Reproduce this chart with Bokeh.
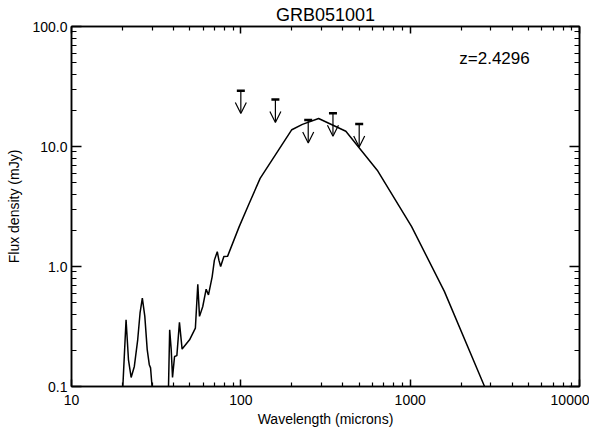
from bokeh.plotting import figure
from bokeh.models import (Range1d, LogAxis, FixedTicker, PrintfTickFormatter, Arrow,
                          OpenHead, ColumnDataSource, Label)
from bokeh.embed import file_html
from bokeh.resources import INLINE

# ---- data -------------------------------------------------------------
title_text = "GRB051001"
redshift_text = "z=2.4296"

sed_wave = [10, 19.8, 20.1, 21.0, 21.7, 22.5, 23.5, 24.6, 25.4, 26.2, 27.1, 28.0, 28.8,
            29.3, 29.9, 30.4, 37.0, 37.4, 38.0, 38.8, 39.5, 40.6, 41.9, 43.4, 45.0, 49.8,
            53.9, 55.7, 57.0, 59.6, 62.4, 64.4, 67.7, 69.8, 72.6, 74.2, 76.0, 79.4, 83.6,
            97.8, 111, 130, 200, 231, 288, 417, 639, 1020, 1592, 2750, 3500, 10000]
sed_flux = [0.01, 0.02, 0.10, 0.36, 0.167, 0.119, 0.147, 0.245, 0.41, 0.546, 0.384, 0.203,
            0.152, 0.143, 0.10, 0.03, 0.03, 0.10, 0.297, 0.203, 0.119, 0.178, 0.181, 0.342,
            0.205, 0.245, 0.307, 0.71, 0.384, 0.464, 0.647, 0.58, 0.82, 1.13, 1.33, 1.13,
            1.00, 1.21, 1.22, 2.15, 3.25, 5.42, 13.8, 15.3, 17.1, 13.4, 6.35, 2.15, 0.62,
            0.10, 0.04, 0.001]

ul_wave = [100, 160, 250, 350, 500]
ul_flux = [29.2, 24.6, 16.6, 18.9, 15.4]

x_ticks = [10, 100, 1000, 10000]
y_ticks = [0.1, 1, 10, 100]

# ---- styling constants ------------------------------------------------
FONT = "Liberation Sans"
ARROW_FACTOR = 0.644  # arrow length (fixed fraction of a decade)


def minors(ticks):
    out = []
    for t in ticks[:-1]:
        out += [t * k for k in range(2, 10)]
    return out


xticker = FixedTicker(ticks=x_ticks, minor_ticks=minors(x_ticks))
yticker = FixedTicker(ticks=y_ticks, minor_ticks=minors(y_ticks))

p = figure(frame_width=508, frame_height=360,
           x_axis_type="log", y_axis_type="log",
           x_range=Range1d(10, 10000), y_range=Range1d(0.1, 100),
           output_backend="svg", toolbar_location=None,
           min_border_left=71, min_border_right=10, min_border_top=22,
           min_border_bottom=10, background_fill_color="white",
           border_fill_color="white")

bottom = p.below[0]
left = p.left[0]

p.title.text = title_text
p.title.align = "center"
p.title.text_font = FONT
p.title.text_font_size = "18px"
p.title.text_font_style = "normal"
p.title.text_color = "black"
p.title.standoff = 4
p.title.offset = 0

p.xgrid.visible = False
p.ygrid.visible = False
p.outline_line_color = "black"
p.outline_line_width = 1.5

top = LogAxis(ticker=xticker)
right = LogAxis(ticker=yticker)
p.add_layout(top, "above")
p.add_layout(right, "right")

for ax in [bottom, top]:
    ax.ticker = xticker
    ax.major_tick_in = 7
    ax.minor_tick_in = 4
for ax in [left, right]:
    ax.ticker = yticker
    ax.major_tick_in = 10
    ax.minor_tick_in = 5

for ax in [bottom, top, left, right]:
    ax.major_tick_out = 0
    ax.minor_tick_out = 0
    ax.axis_line_width = 1.5
    ax.axis_line_color = "black"
    ax.major_tick_line_width = 1.5
    ax.minor_tick_line_width = 1.2
    ax.major_tick_line_color = "black"
    ax.minor_tick_line_color = "black"
    ax.major_label_text_font = FONT
    ax.major_label_text_font_size = "14px"
    ax.major_label_text_color = "black"
    ax.axis_label_text_font = FONT
    ax.axis_label_text_font_size = "14px"
    ax.axis_label_text_font_style = "normal"
    ax.axis_label_text_color = "black"

for ax in [top, right]:
    ax.major_label_text_font_size = "1px"
    ax.major_label_text_color = None
    ax.major_label_standoff = 0
    ax.axis_label = None

bottom.formatter = PrintfTickFormatter(format="%d")
left.formatter = PrintfTickFormatter(format="%.1f")
bottom.axis_label = "Wavelength (microns)"
left.axis_label = "Flux density (mJy)"
bottom.major_label_standoff = 8
bottom.axis_label_standoff = 3
left.major_label_standoff = 4
left.axis_label_standoff = 7

# SED curve
p.line(sed_wave, sed_flux, line_color="black", line_width=1.5)

# upper limits
src = ColumnDataSource(dict(x0=ul_wave, y0=ul_flux, x1=ul_wave,
                            y1=[f * ARROW_FACTOR for f in ul_flux]))
p.add_layout(Arrow(end=OpenHead(size=11, line_width=1.2, line_color="black"),
                   x_start="x0", y_start="y0", x_end="x1", y_end="y1",
                   source=src, line_width=1.2, line_color="black"))
p.scatter(ul_wave, ul_flux, marker="dash", size=8, line_width=2.5, line_color="black")

p.add_layout(Label(x=1950, y=54, text=redshift_text, text_font=FONT,
                   text_font_size="17px", text_baseline="middle", text_color="black"))

open("out.html", "w").write(file_html(p, INLINE))
